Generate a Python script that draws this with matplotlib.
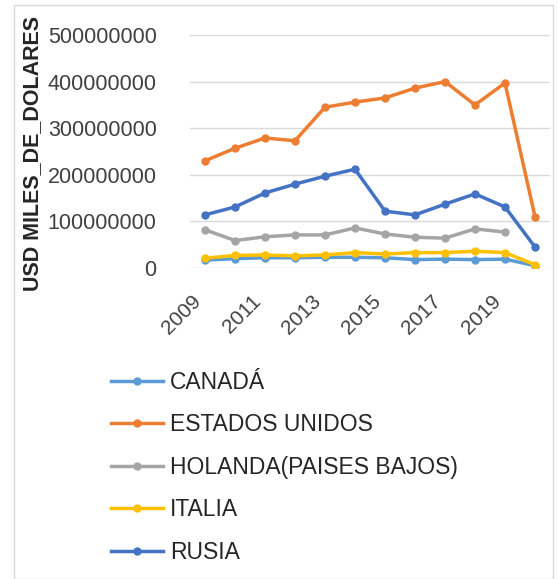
import numpy as np
import matplotlib
matplotlib.use("Agg")
import matplotlib.pyplot as plt
from matplotlib.patches import Rectangle

plt.rcParams['font.family'] = ['Liberation Sans', 'DejaVu Sans']

anios = [2009, 2010, 2011, 2012, 2013, 2014, 2015, 2016, 2017, 2018, 2019, 2020]
canada = [17e6, 20e6, 22e6, 22e6, 23e6, 23e6, 22e6, 18e6, 19e6, 18e6, 19e6, 5e6]
estados_unidos = [230e6, 257e6, 279e6, 273e6, 345e6, 356e6, 365e6, 386e6, 400e6, 350e6, 397e6, 110e6]
holanda = [82e6, 59e6, 67e6, 71e6, 71e6, 86e6, 73e6, 66e6, 64e6, 84e6, 77e6, np.nan]
italia = [21e6, 27e6, 28e6, 26e6, 28e6, 33e6, 30e6, 33e6, 33e6, 36e6, 33e6, 7e6]
rusia = [114e6, 131e6, 161e6, 180e6, 197e6, 212e6, 122e6, 114e6, 137e6, 159e6, 131e6, 45e6]

series = [
    ("CANADÁ", canada, "#5B9BD5"),
    ("ESTADOS UNIDOS", estados_unidos, "#ED7D31"),
    ("HOLANDA(PAISES BAJOS)", holanda, "#A5A5A5"),
    ("ITALIA", italia, "#FFC000"),
    ("RUSIA", rusia, "#4472C4"),
]

fig = plt.figure(figsize=(5.58, 5.79), dpi=100)
ax = fig.add_axes([190 / 558, 1 - 268 / 579, 360 / 558, 233 / 579])

for nombre, valores, color in series:
    ax.plot(anios, valores, color=color, linewidth=2.5, marker='o', markersize=5, label=nombre)

ax.set_xlim(2008.5, 2020.5)
ax.set_ylim(0, 500e6)
ax.set_yticks(np.arange(0, 500e6 + 1, 100e6))
ax.set_yticklabels([str(int(v)) for v in np.arange(0, 500e6 + 1, 100e6)], fontsize=15.5, color='#404040')
ax.set_xticks(anios[::2])
ax.set_xticklabels([str(a) for a in anios[::2]], rotation=45, ha='right', va='top',
                   fontsize=15, color='#404040')
ax.tick_params(axis='both', length=0)
ax.tick_params(axis='y', pad=24)
ax.tick_params(axis='x', pad=17)
ax.grid(axis='y', color='#d9d9d9', linewidth=1)
ax.set_axisbelow(True)
for s in ax.spines.values():
    s.set_visible(False)

fig.text(33 / 558, 1 - 153 / 579, "USD MILES_DE_DOLARES", rotation=90, fontsize=15.5,
         fontweight='bold', ha='center', va='center', color='#262626')

handles, labels = ax.get_legend_handles_labels()
fig.legend(handles, labels, loc='upper left', bbox_to_anchor=(90 / 558, 1 - 350 / 579),
           frameon=False, fontsize=16.5, handlelength=2.3, labelspacing=0.85,
           handletextpad=0.3, labelcolor='#262626')

fig.patches.append(Rectangle((14 / 558, 0.0), 539 / 558, 1 - 5 / 579, transform=fig.transFigure,
                             fill=False, edgecolor='#d9d9d9', linewidth=1))

fig.savefig("out.png", dpi=100)
